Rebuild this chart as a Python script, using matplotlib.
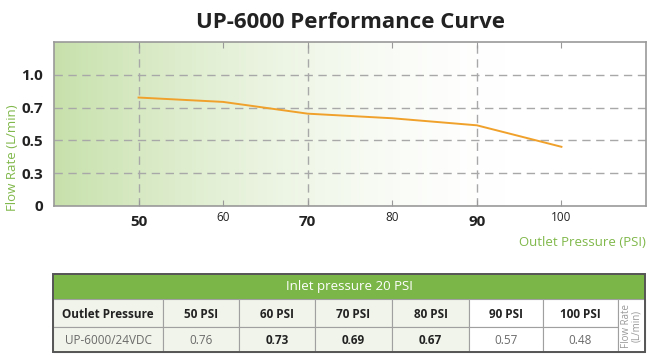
import numpy as np
import matplotlib
matplotlib.use('Agg')
import matplotlib.pyplot as plt
from matplotlib.patches import Rectangle

plt.rcParams['font.family'] = ['Open Sans', 'DejaVu Sans']

# data
pressure = [50, 60, 70, 80, 90, 100]
curve_flow = [0.792, 0.752, 0.663, 0.635, 0.592, 0.461]   # as drawn on the curve
bold_x = [50, 70, 90]
y_ticks = [0, 0.3, 0.5, 0.7, 1.0]
y_tick_labels = ['0', '0.3', '0.5', '0.7', '1.0']

table_title = 'Inlet pressure 20 PSI'
table_head = ['Outlet Pressure', '50 PSI', '60 PSI', '70 PSI', '80 PSI', '90 PSI', '100 PSI']
table_vals = ['UP-6000/24VDC', '0.76', '0.73', '0.69', '0.67', '0.57', '0.48']
table_bold = [False, False, True, True, True, False, False]
table_unit = 'Flow Rate\n(L/min)'

green = '#7ab648'
label_green = '#80b84a'
dark = '#222222'
grey_txt = '#6a6a6a'

# y axis is evenly spaced by tick, not by value
map_v = [0, 0.3, 0.5, 0.7, 1.0, 1.3]
map_u = [0, 1, 2, 3, 4, 5]
def fwd(v):
    return np.interp(v, map_v, map_u)
def inv(u):
    return np.interp(u, map_u, map_v)

fig = plt.figure(figsize=(6.53, 3.57), dpi=100)
W, H = 653, 357
pos = [54 / W, 1 - 206 / H, 592 / W, 164 / H]

# gradient background
bg = fig.add_axes(pos, zorder=0)
xs = np.linspace(0, 1, 400)
fade = np.clip(1 - xs / 0.76, 0, 1) ** 1.6
left_col = np.array([0.78, 0.88, 0.67])
img = 1 - (1 - left_col)[None, :] * fade[:, None]
bg.imshow(img[None, :, :], aspect='auto', extent=(0, 1, 0, 1))
bg.set_axis_off()

ax = fig.add_axes(pos, zorder=1)
ax.set_facecolor('none')
ax.set_yscale('function', functions=(fwd, inv))
ax.set_xlim(40, 110)
ax.set_ylim(0, 1.314)

for v in y_ticks[1:]:
    ax.axhline(v, color='#a8a8a8', lw=1, ls=(0, (6, 4)), zorder=1)
for x in bold_x:
    ax.axvline(x, color='#a8a8a8', lw=1, ls=(0, (6, 4)), zorder=1)

ax.plot(pressure, curve_flow, color='#f0a12b', lw=1.4, zorder=3)

for s in ax.spines.values():
    s.set_color('#999999')
    s.set_linewidth(1.2)

ax.set_yticks(y_ticks)
ax.set_yticklabels(y_tick_labels, fontsize=11, fontweight='bold', color=dark)
ax.tick_params(axis='y', length=0, pad=8)
ax.set_xticks(pressure)
ax.set_xticklabels([])
ax.tick_params(axis='x', bottom=True, top=True, direction='in', length=4, color='#999999')
ax.minorticks_off()

xt = ax.get_xaxis_transform()
for x in pressure:
    if x in bold_x:
        ax.text(x, -0.095, str(x), transform=xt, ha='center', va='center',
                fontsize=11, fontweight='bold', color=dark)
    else:
        ax.text(x, -0.07, str(x), transform=xt, ha='center', va='center',
                fontsize=8.5, color=dark)

fig.text(350 / W, 1 - 22 / H, 'UP-6000 Performance Curve', ha='center', va='center',
         fontsize=16, fontweight='bold', color=dark)
fig.text(12 / W, 1 - 158 / H, 'Flow Rate (L/min)', rotation=90, ha='center', va='center',
         fontsize=9.5, color=label_green)
fig.text(646 / W, 1 - 243 / H, 'Outlet Pressure (PSI)', ha='right', va='center',
         fontsize=9.5, color=label_green)

# table
tax = fig.add_axes([0, 0, 1, 1], zorder=2)
tax.set_xlim(0, W)
tax.set_ylim(H, 0)
tax.set_axis_off()

cols = [53, 163, 239, 315, 392, 469, 543, 618, 645]
rows = [274, 299, 327, 352]
shade = '#f0f4ea'

tax.add_patch(Rectangle((cols[0], rows[0]), cols[-1] - cols[0], rows[1] - rows[0],
                        facecolor=green, edgecolor='none'))
tax.text((cols[0] + cols[-1]) / 2, (rows[0] + rows[1]) / 2, table_title,
         ha='center', va='center', fontsize=9.5, color='white')

for i in range(len(table_head)):
    x0, x1 = cols[i], cols[i + 1]
    fc = shade if i <= 4 else 'white'
    for r in (1, 2):
        tax.add_patch(Rectangle((x0, rows[r]), x1 - x0, rows[r + 1] - rows[r],
                                facecolor=fc, edgecolor='#a0a0a0', lw=0.8))
    tax.text((x0 + x1) / 2, (rows[1] + rows[2]) / 2 + 1, table_head[i],
             ha='center', va='center', fontsize=8.5, fontweight='bold', color=dark)
    tax.text((x0 + x1) / 2, (rows[2] + rows[3]) / 2 + 1, table_vals[i],
             ha='center', va='center', fontsize=8.5,
             fontweight='bold' if table_bold[i] else 'normal',
             color=dark if table_bold[i] else grey_txt)

tax.add_patch(Rectangle((cols[-2], rows[1]), cols[-1] - cols[-2], rows[3] - rows[1],
                        facecolor='white', edgecolor='#a0a0a0', lw=0.8))
tax.text((cols[-2] + cols[-1]) / 2, (rows[1] + rows[3]) / 2, table_unit, rotation=90,
         ha='center', va='center', fontsize=7, color='#999999', linespacing=0.9)

tax.add_patch(Rectangle((cols[0], rows[0]), cols[-1] - cols[0], rows[-1] - rows[0],
                        facecolor='none', edgecolor='#555555', lw=1.4))

fig.savefig('out.png', dpi=100)
